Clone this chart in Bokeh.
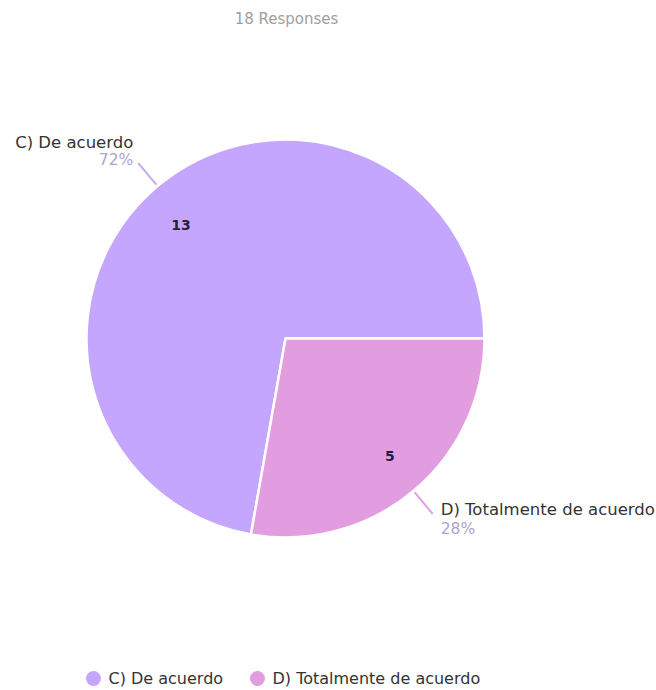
import math
from bokeh.plotting import figure
from bokeh.models import Range1d, ColumnDataSource
from bokeh.core.properties import value
from bokeh.embed import file_html
from bokeh.resources import INLINE

# ---- data ----
categories = ["C) De acuerdo", "D) Totalmente de acuerdo"]
counts = [13, 5]
colors = ["#C5A6FE", "#E19DE0"]
title_text = "18 Responses"

W, H = 656, 690
FONT = "DejaVu Sans"

p = figure(width=W, height=H, output_backend="svg", toolbar_location=None,
           x_range=Range1d(0, W), y_range=Range1d(0, H),
           min_border=0, outline_line_color=None)
p.axis.visible = False
p.grid.visible = False
p.background_fill_color = "white"

def py(page_y):
    return H - page_y

def px(page_x):
    return page_x

cx, cy = px(285), py(338)
R = 199

total = sum(counts)
# slices go clockwise from east: last category first (D), then C
acc = 0.0
spans = {}
for i in list(range(len(counts)))[::-1]:
    span = counts[i] / total * 2 * math.pi
    spans[i] = (-(acc + span), -acc)
    acc += span
starts = [spans[i][0] for i in range(len(counts))]
ends = [spans[i][1] for i in range(len(counts))]
mid = [(s + e) / 2 for s, e in zip(starts, ends)]
pct = [f"{round(c / total * 100)}%" for c in counts]

src = ColumnDataSource(dict(start=starts, end=ends, color=colors))
p.wedge(x=cx, y=cy, radius=R, start_angle="start", end_angle="end",
        fill_color="color", line_color="white", line_width=2.5, source=src)

for i, m in enumerate(mid):
    c, s = math.cos(m), math.sin(m)
    # value label inside
    la = m + math.radians(2)
    p.text(x=[cx + 156 * math.cos(la)], y=[cy + 156 * math.sin(la) - 2], text=[str(counts[i])],
           text_font=value(FONT), text_font_size="14px", text_font_style="bold",
           text_color="#2b1d3a", text_align="center", text_baseline="middle")
    # connector
    x0, y0 = cx + (R + 2) * c, cy + (R + 2) * s
    x1, y1 = cx + 229 * c, cy + 229 * s
    p.line(x=[x0, x1], y=[y0, y1], line_color=colors[i], line_width=2)
    left = c < 0
    tx = x1 - 5 if left else x1 + 8
    align = "right" if left else "left"
    if s > 0:
        ny, pyy = y1 + 21, y1 + 3
    else:
        ny, pyy = y1 + 4, y1 - 15
    p.text(x=[tx], y=[ny], text=[categories[i]], text_font=value(FONT),
           text_font_size="16.5px", text_color="#333333", text_align=align,
           text_baseline="middle")
    p.text(x=[tx], y=[pyy], text=[pct[i]], text_font=value(FONT),
           text_font_size="15.5px", text_color="#A9A5CB", text_align=align,
           text_baseline="middle")

# title
p.text(x=[px(286)], y=[py(18)], text=[title_text], text_font=value(FONT),
       text_font_size="15px", text_color="#A0A0A0", text_align="center",
       text_baseline="middle")

# legend
leg_x = [px(93), px(257)]
ly = py(678)
for i, cat in enumerate(categories):
    p.scatter(x=[leg_x[i]], y=[ly], size=15, marker="circle",
              fill_color=colors[i], line_color=None)
    p.text(x=[leg_x[i] + 15], y=[ly], text=[cat], text_font=value(FONT),
           text_font_size="16px", text_color="#333333", text_align="left",
           text_baseline="middle")

open("out.html", "w").write(file_html(p, INLINE))
